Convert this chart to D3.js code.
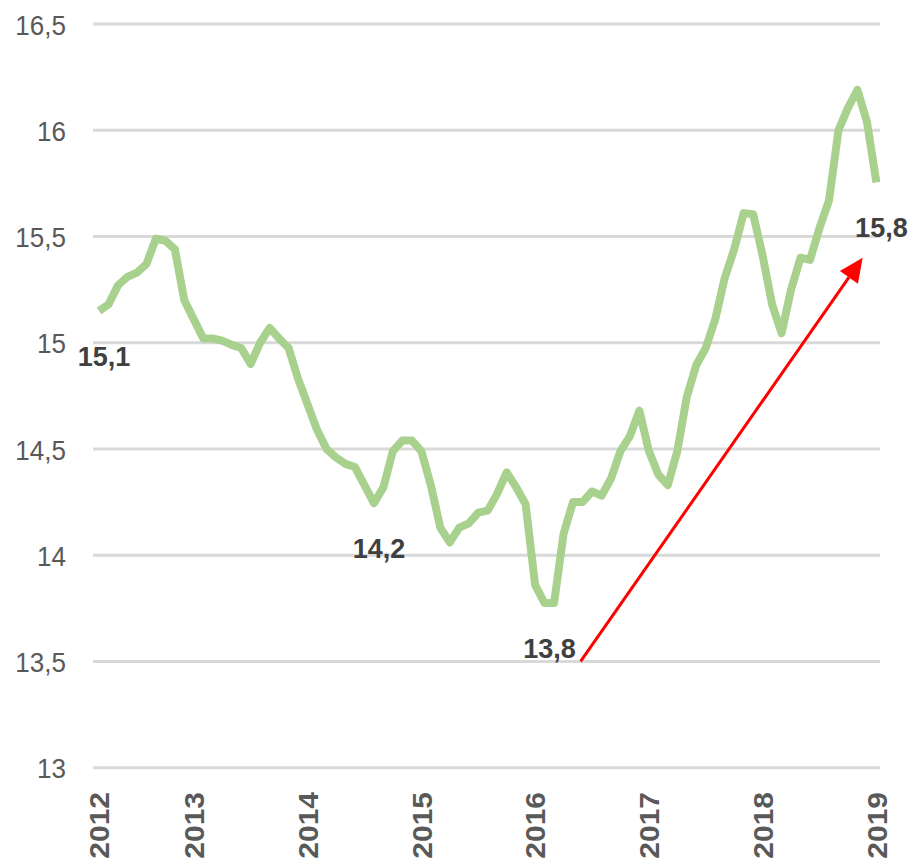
<!DOCTYPE html>
<html>
<head>
<meta charset="utf-8">
<script src="https://cdn.jsdelivr.net/npm/d3@7"></script>
<style>
  html, body { margin: 0; padding: 0; background: #ffffff; }
  svg { display: block; }
</style>
</head>
<body>
<svg id="chart" width="914" height="865"></svg>
<script>
// ---- data (monthly, Mar 2012 .. Jan 2019) ----
const values = [
  15.15, 15.18, 15.27, 15.31, 15.33, 15.37, 15.49, 15.48, 15.44, 15.20,
  15.11, 15.02, 15.02, 15.01, 14.99, 14.975, 14.90, 15.00, 15.07, 15.02,
  14.975, 14.83, 14.71, 14.59, 14.50, 14.46, 14.43, 14.415, 14.33, 14.245,
  14.32, 14.49, 14.54, 14.54, 14.49, 14.33, 14.13, 14.06, 14.13, 14.15,
  14.20, 14.21, 14.29, 14.39, 14.32, 14.24, 13.86, 13.775, 13.775, 14.10,
  14.25, 14.25, 14.30, 14.28, 14.36, 14.49, 14.56, 14.68, 14.49, 14.38,
  14.33, 14.49, 14.745, 14.895, 14.975, 15.11, 15.305, 15.44, 15.61, 15.605,
  15.41, 15.18, 15.045, 15.25, 15.40, 15.39, 15.54, 15.67, 16.00, 16.105,
  16.19, 16.04, 15.755
];
const yTicks = [13, 13.5, 14, 14.5, 15, 15.5, 16, 16.5];
const yearTickIdx = [0, 10, 22, 34, 46, 58, 70, 82];
const yearLabels = ["2012", "2013", "2014", "2015", "2016", "2017", "2018", "2019"];
const labelIdx = [0, 29, 47, 82];
const labelText = ["15,1", "14,2", "13,8", "15,8"];
const arrowFrom = [50.8, 13.5];   // [month index, value]
const arrowTo = [80.55, 15.40];

// ---- layout ----
const svg = d3.select("#chart");
const x = d3.scaleLinear().domain([0, values.length - 1]).range([99, 876.4]);
const y = d3.scaleLinear().domain([13, 16.5]).range([767.7, 24]);
const gridX0 = 93, gridX1 = 880;
const fmt = v => String(v).replace(".", ",");

// gridlines
svg.append("g").selectAll("line").data(yTicks).join("line")
  .attr("x1", gridX0).attr("x2", gridX1)
  .attr("y1", d => y(d)).attr("y2", d => y(d))
  .attr("stroke", "#d9d9d9").attr("stroke-width", 3);

// y axis labels
const yAxis = svg.append("g")
  .attr("transform", `translate(66,0)`)
  .call(d3.axisLeft(y).tickValues(yTicks).tickFormat(fmt).tickSize(0).tickPadding(0));
yAxis.select(".domain").remove();
yAxis.selectAll("text")
  .attr("font-family", "'Liberation Sans', Arial, sans-serif")
  .attr("font-size", 28)
  .attr("fill", "#595959")
  .attr("x", 0)
  .attr("dy", "0.36em")
  .attr("text-anchor", "end")
  .attr("transform", "scale(0.93,1)")
  .each(function() {
    // keep right edge at the axis after horizontal squeeze
    d3.select(this).attr("transform", "scale(0.93,1)");
  });

// x axis (year labels, rotated)
const xAxis = svg.append("g")
  .attr("transform", `translate(0,792)`)
  .call(d3.axisBottom(x).tickValues(yearTickIdx)
        .tickFormat((d, i) => yearLabels[i]).tickSize(0).tickPadding(0));
xAxis.select(".domain").remove();
xAxis.selectAll("text")
  .attr("font-family", "'Liberation Sans', Arial, sans-serif")
  .attr("font-size", 30)
  .attr("font-weight", "bold")
  .attr("fill", "#595959")
  .attr("x", 0).attr("y", 0)
  .attr("dy", "0.36em")
  .attr("text-anchor", "end")
  .attr("transform", "scale(0.9,1) rotate(-90)");

// data line
svg.append("path")
  .datum(values)
  .attr("fill", "none")
  .attr("stroke", "#a9d18e")
  .attr("stroke-width", 8)
  .attr("stroke-linejoin", "round")
  .attr("stroke-linecap", "butt")
  .attr("d", d3.line().x((d, i) => x(i)).y(d => y(d)));

// data labels
svg.append("g").selectAll("text").data(labelIdx).join("text")
  .attr("x", (d) => x(d) + 5)
  .attr("y", (d) => y(values[d]) + 55)
  .attr("text-anchor", "middle")
  .attr("font-family", "'Liberation Sans', Arial, sans-serif")
  .attr("font-size", 27)
  .attr("font-weight", "bold")
  .attr("fill", "#404040")
  .text((d, i) => labelText[i]);

// red arrow
const ax0 = x(arrowFrom[0]), ay0 = y(arrowFrom[1]);
const ax1 = x(arrowTo[0]), ay1 = y(arrowTo[1]);
const ang = Math.atan2(ay1 - ay0, ax1 - ax0);
const headLen = 24, headHalf = 11;
const bx = ax1 - headLen * Math.cos(ang), by = ay1 - headLen * Math.sin(ang);
svg.append("line")
  .attr("x1", ax0).attr("y1", ay0).attr("x2", bx).attr("y2", by)
  .attr("stroke", "#ff0000").attr("stroke-width", 3);
svg.append("path")
  .attr("d", `M${ax1},${ay1}L${bx + headHalf * Math.sin(ang)},${by - headHalf * Math.cos(ang)}L${bx - headHalf * Math.sin(ang)},${by + headHalf * Math.cos(ang)}Z`)
  .attr("fill", "#ff0000");
</script>
</body>
</html>
